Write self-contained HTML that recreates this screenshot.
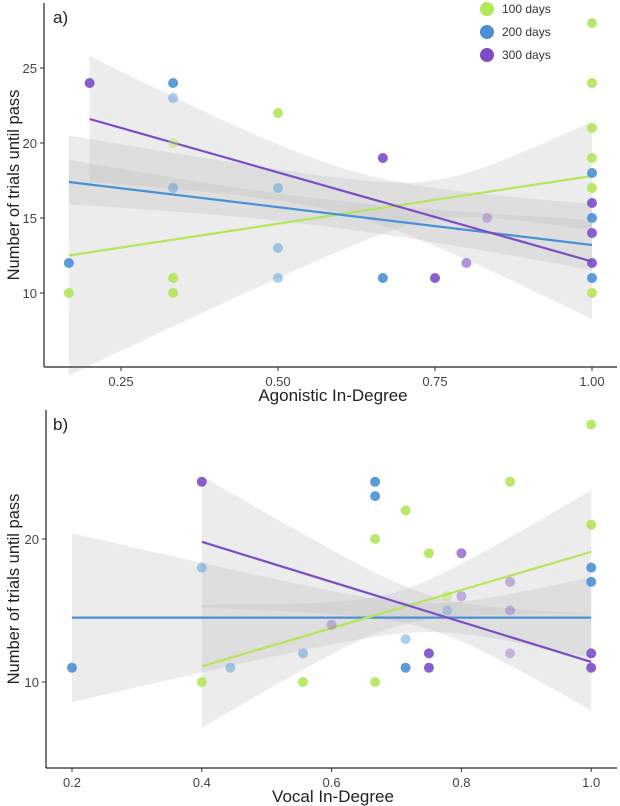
<!DOCTYPE html>
<html><head><meta charset="utf-8"><style>
body{margin:0;background:#fff;}
svg{display:block;font-family:"Liberation Sans",sans-serif;}
</style></head><body>
<svg id="s" width="620" height="806" xmlns="http://www.w3.org/2000/svg"></svg>
<script>
const S=document.getElementById('s');let h='';
const G='#b3e65a',B='#4a90d6',P='#7d4cc6';
function panel(o){
 const X=v=>o.x0+(v-o.v0)*o.kx, Y=v=>o.y0-(v-10)*o.ky;
 // bands
 o.bands.forEach(b=>{let top=[],bot=[];
  for(let i=0;i<=40;i++){const x=b.a+(b.b-b.a)*i/40;const c=b.l0+(b.l1-b.l0)*(x-b.a)/(b.b-b.a);
   const w=Math.sqrt(b.m*b.m+b.k2*(x-b.c)*(x-b.c));top.push(X(x).toFixed(1)+','+Y(c+w).toFixed(1));bot.unshift(X(x).toFixed(1)+','+Y(c-w).toFixed(1));}
  h+=`<polygon points="${top.concat(bot).join(' ')}" fill="rgba(185,185,185,0.28)"/>`;});
 // lines
 o.bands.forEach(b=>{h+=`<line x1="${X(b.a)}" y1="${Y(b.l0)}" x2="${X(b.b)}" y2="${Y(b.l1)}" stroke="${b.col}" stroke-width="2.2"/>`;});
 // points
 o.pts.forEach(p=>{h+=`<circle cx="${X(p[0])}" cy="${Y(p[1])}" r="5" fill="${p[2]}" opacity="${p[3]||0.9}"/>`;});
 // axes
 h+=`<line x1="${o.ax}" y1="${o.top}" x2="${o.ax}" y2="${o.bot}" stroke="#222" stroke-width="1.2"/>`;
 h+=`<line x1="${o.ax}" y1="${o.bot}" x2="617" y2="${o.bot}" stroke="#222" stroke-width="1.2"/>`;
 o.xt.forEach(t=>{h+=`<line x1="${X(t)}" y1="${o.bot}" x2="${X(t)}" y2="${o.bot+4}" stroke="#333"/><text x="${X(t)}" y="${o.bot+19}" font-size="13" fill="#444" text-anchor="middle">${t.toFixed(o.dec)}</text>`;});
 o.yt.forEach(t=>{h+=`<line x1="${o.ax-4}" y1="${Y(t)}" x2="${o.ax}" y2="${Y(t)}" stroke="#333"/><text x="${o.ax-7}" y="${Y(t)+5}" font-size="13" fill="#444" text-anchor="end">${t}</text>`;});
 h+=`<text x="333" y="${o.bot+34}" font-size="17" fill="#222" text-anchor="middle">${o.xl}</text>`;
 h+=`<text transform="translate(19,${(o.top+o.bot)/2}) rotate(-90)" font-size="16.5" fill="#222" text-anchor="middle">Number of trials until pass</text>`;
 h+=`<text x="53" y="${o.top+20}" font-size="17" fill="#222">${o.lab}</text>`;
}
const L=0.45;
panel({x0:121,v0:0.25,kx:628,y0:293,ky:15,ax:44,top:3,bot:367,xt:[0.25,0.5,0.75,1.0],dec:2,yt:[10,15,20,25],xl:'Agonistic In-Degree',lab:'a)',
 bands:[
  {a:0.167,b:1,l0:12.5,l1:17.8,c:0.75,m:1.3,k2:183,col:G},
  {a:0.167,b:1,l0:17.4,l1:13.2,c:0.55,m:0.9,k2:9.8,col:B},
  {a:0.2,b:1,l0:21.6,l1:12.1,c:0.62,m:1.5,k2:87,col:P}],
 pts:[[0.2,24,P],[0.333,24,B],[0.333,23,B,L],[0.333,20,G,L],[0.333,17,B,L],[0.333,11,G],[0.333,10,G],[0.167,12,B],[0.167,10,G],
  [0.5,22,G],[0.5,17,B,L],[0.5,13,B,L],[0.5,11,B,L],[0.667,19,P],[0.667,11,B],[0.75,11,P],[0.8,12,P,0.6],[0.833,15,P,0.35],
  [1,28,G],[1,24,G],[1,21,G],[1,19,G],[1,17,G],[1,10,G],[1,18,B],[1,15,B],[1,11,B],[1,16,P],[1,14,P],[1,12,P]]});
panel({x0:72,v0:0.2,kx:649,y0:682,ky:14.3,ax:46,top:410,bot:768,xt:[0.2,0.4,0.6,0.8,1.0],dec:1,yt:[10,20],xl:'Vocal In-Degree',lab:'b)',
 bands:[
  {a:0.2,b:1,l0:14.5,l1:14.5,c:0.75,m:1,k2:112,col:B},
  {a:0.4,b:1,l0:11.1,l1:19.1,c:0.7,m:1.2,k2:190,col:G},
  {a:0.4,b:1,l0:19.8,l1:11.4,c:0.75,m:1.2,k2:161,col:P}],
 pts:[[0.2,11,B],[0.4,24,P],[0.4,18,B,L],[0.4,10,G],[0.444,11,B,L],[0.556,12,B,L],[0.556,10,G],[0.6,14,P,0.35],[0.667,24,B],[0.667,23,B],
  [0.667,20,G],[0.667,10,G],[0.714,22,G],[0.714,13,B,L],[0.714,11,B],[0.75,19,G],[0.75,12,P],[0.75,11,P],[0.778,16,G,L],[0.778,15,B,0.35],
  [0.8,19,P,0.7],[0.8,16,P,0.4],[0.875,24,G],[0.875,17,P,0.4],[0.875,15,P,0.35],[0.875,12,P,0.35],[1,28,G],[1,21,G],[1,18,B],[1,17,B],[1,12,P],[1,11,P]]});
[[G,'100 days',9],[B,'200 days',32],[P,'300 days',55]].forEach(l=>{h+=`<circle cx="487" cy="${l[2]}" r="7" fill="${l[0]}"/><text x="502" y="${l[2]+4}" font-size="12" fill="#333">${l[1]}</text>`;});
S.innerHTML=h;
</script>
</body></html>
